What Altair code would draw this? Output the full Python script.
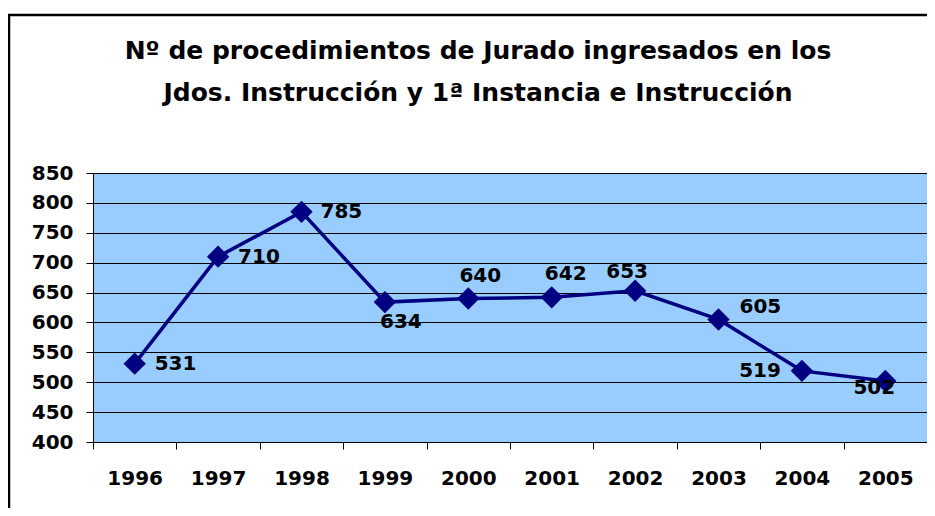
import altair as alt
import pandas as pd

years = ["1996", "1997", "1998", "1999", "2000", "2001", "2002", "2003", "2004", "2005"]
values = [531, 710, 785, 634, 640, 642, 653, 605, 519, 502]
y_ticks = [400, 450, 500, 550, 600, 650, 700, 750, 800, 850]
title_lines = ["Nº de procedimientos de Jurado ingresados en los",
               "Jdos. Instrucción y 1ª Instancia e Instrucción"]

df = pd.DataFrame({"year": years, "value": values})

FONT = "DejaVu Sans"

x_enc = alt.X("year:N", bandPosition=0.5,
              scale=alt.Scale(type="band", paddingInner=0, paddingOuter=0),
              axis=alt.Axis(title=None, labelAngle=0, tickBand="extent", grid=False,
                            domainColor="black", tickColor="black", tickSize=7,
                            labelFont=FONT, labelFontSize=20, labelFontWeight="bold",
                            labelColor="black", labelPadding=19))
y_enc = alt.Y("value:Q",
              scale=alt.Scale(domain=[400, 850], nice=False, zero=False),
              axis=alt.Axis(title=None, values=y_ticks, grid=True, gridColor="black",
                            gridOpacity=1, gridWidth=1, domainColor="black",
                            tickColor="black", tickSize=7,
                            labelFont=FONT, labelFontSize=20, labelFontWeight="bold",
                            labelColor="black", labelPadding=13))

base = alt.Chart(df).encode(x=x_enc, y=y_enc)

line = base.mark_line(color="#000080", strokeWidth=3.5)
pts = base.mark_point(shape="diamond", size=500, filled=True, color="#000080", opacity=1)

# label placement (dx, dy, align) per year
placement = {
    "1996": (20, 0, "left"),
    "1997": (20, 0, "left"),
    "1998": (19, 0, "left"),
    "1999": (16, 20, "center"),
    "2000": (12, -23, "center"),
    "2001": (14, -23, "center"),
    "2002": (-8, -19, "center"),
    "2003": (21, -12, "left"),
    "2004": (-21, 0, "right"),
    "2005": (-11, 7, "center"),
}
label_layers = []
for yr, (dx, dy, al) in placement.items():
    label_layers.append(
        base.transform_filter(alt.datum.year == yr)
        .mark_text(dx=dx, dy=dy, align=al, baseline="middle", font=FONT,
                   fontSize=20, fontWeight="bold", color="black")
        .encode(text="value:Q")
    )

one = alt.Data(values=[{"a": 1}])
frame = alt.Chart(one).mark_rect(
    filled=False, stroke="black", strokeWidth=2.5, clip=False
).encode(x=alt.value(-84), x2=alt.value(1000), y=alt.value(-158), y2=alt.value(600))

title_layers = []
for i, t in enumerate(title_lines):
    title_layers.append(
        alt.Chart(one).mark_text(font=FONT, fontSize=25, fontWeight="bold", color="black",
                                 align="center", baseline="middle", clip=False)
        .encode(x=alt.value(385), y=alt.value(-122 + 42 * i), text=alt.value(t))
    )

chart = alt.layer(frame, line, pts, *label_layers, *title_layers).properties(
    width=834, height=269,
    autosize=alt.AutoSizeParams(type="none"),
    padding={"left": 85, "top": 165, "right": 0, "bottom": 66},
).configure_view(fill="#99CCFF", stroke="#808080", strokeWidth=1)

chart.save("out.html", embed_options={"renderer": "svg", "actions": False})
